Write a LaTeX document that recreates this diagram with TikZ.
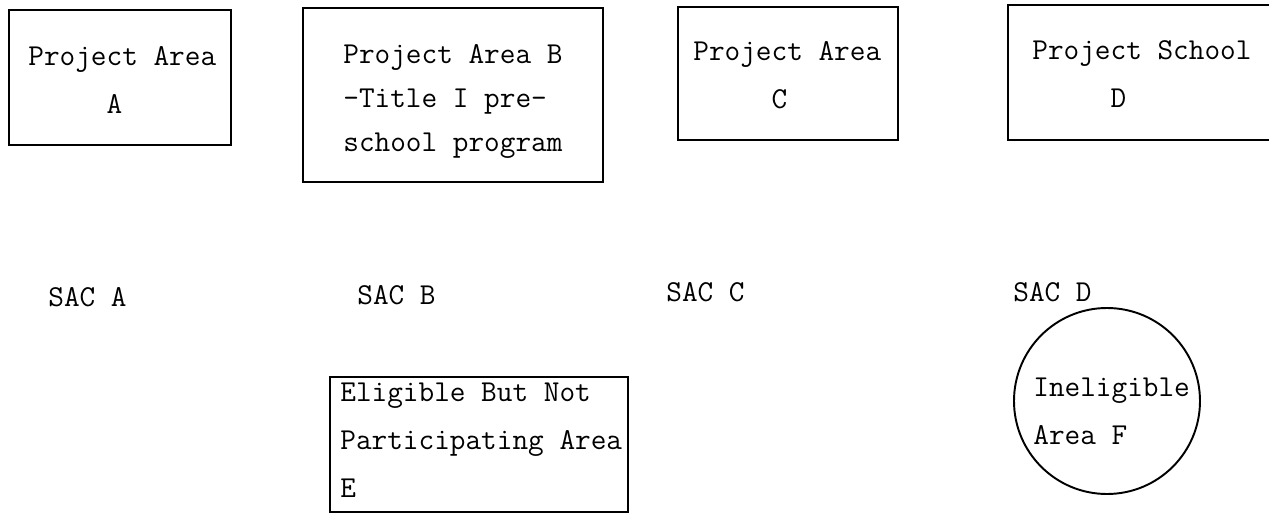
\documentclass[tikz,border=0pt]{standalone}
\usepackage{fontspec}
\usepackage{tikz}
\usetikzlibrary{positioning}
\newcommand{\indentby}[1]{\phantom{#1}}
\newcommand{\typed}{\ttfamily\addfontfeatures{FakeBold=1}}

\begin{document}
\begin{tikzpicture}[x=0.02cm, y=-0.02cm,
    frame/.style={line width=1.1pt},
    boxtext/.style={anchor=north west, inner sep=0pt, align=left,
        font=\typed\fontsize{17.3}{27.2}\selectfont},
    sactext/.style={anchor=base west, inner sep=0pt,
        font=\typed\fontsize{17.3}{27.2}\selectfont}]
    \useasboundingbox (0,0) rectangle (1269,514);

    % TOP ROW: project areas
    \draw[frame] (9,10) rectangle (231,145);
    \node[boxtext] (areaA) at (28,46) {Project Area\\\indentby{Proje}A};

    \draw[frame] (303,8) rectangle (603,182);
    \node[boxtext, font=\typed\fontsize{17.3}{25.2}\selectfont] (areaB) at (343,44)
        {Project Area B\\-Title I pre-\\school program};

    \draw[frame] (678,7) rectangle (898,140);
    \node[boxtext] (areaC) at (693,41) {Project Area\\\indentby{Proje}C};

    % School D runs off the page on the right
    \draw[frame] (1269,5) -- (1008,5) -- (1008,140) -- (1269,140);
    \node[boxtext] (schoolD) at (1032,40) {Project School\\\indentby{Proje}D};

    % MIDDLE ROW: SAC labels
    \node[sactext] (sacA) at (48,306) {SAC A};
    \node[sactext] (sacB) at (357,304) {SAC B};
    \node[sactext] (sacC) at (666,301) {SAC C};
    \node[sactext] (sacD) at (1013,301) {SAC D};

    % BOTTOM ROW: areas E and F
    \draw[frame] (330,377) rectangle (628,512);
    \node[boxtext] (areaE) at (340,383) {Eligible But Not\\Participating Area\\E};

    \draw[frame] (1107,401) circle[radius=93];
    \node[boxtext] (areaF) at (1033,378) {Ineligible\\Area F};
\end{tikzpicture}
\end{document}
